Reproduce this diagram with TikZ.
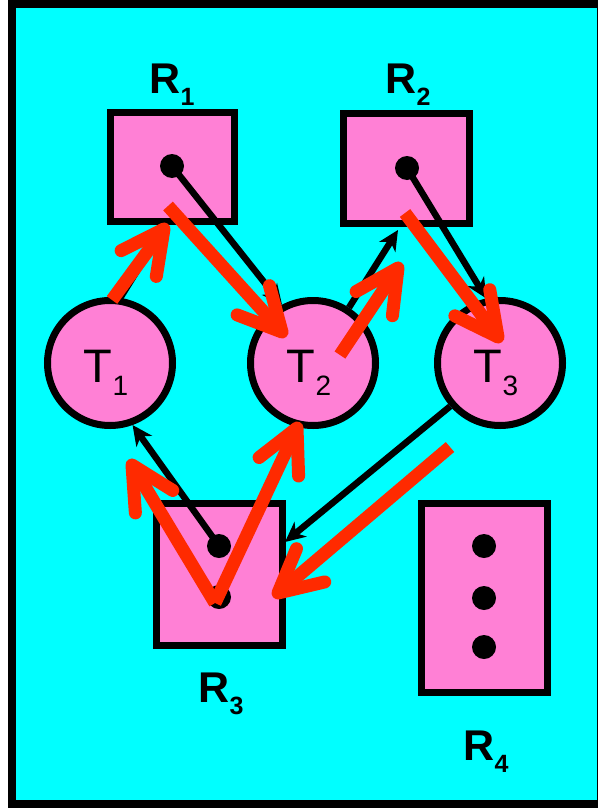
\documentclass[tikz,border=0pt]{standalone}
\usepackage{fontspec}
\setmainfont{Liberation Sans}
\usetikzlibrary{arrows.meta,calc}
\definecolor{bgcyan}{HTML}{00FFFF}
\definecolor{boxpink}{HTML}{FF80D5}
\definecolor{arrred}{HTML}{FF2A00}
\newcommand{\Rlab}[1]{{\fontsize{43}{43}\selectfont\bfseries R\raisebox{-12pt}{\fontsize{25}{25}\selectfont #1}}}
\newcommand{\Tlab}[1]{{\fontsize{47}{47}\selectfont T\raisebox{-13pt}{\fontsize{28}{28}\selectfont #1}}}
\newcommand{\redarrow}[2]{%
  \draw[redshaft] (#1) -- (#2);
  \draw[redbarb] ($(#2)!48pt!27:(#1)$) -- (#2) -- ($(#2)!48pt!-27:(#1)$);}
\tikzset{
  res/.style={draw=black, line width=7pt, fill=boxpink, rectangle, inner sep=0pt},
  task/.style={draw=black, line width=7pt, fill=boxpink, circle, minimum size=125pt, inner sep=0pt},
  dotmark/.style={fill=black, circle, minimum size=24pt, inner sep=0pt},
  lab/.style={anchor=base, inner sep=0pt},
  blackarr/.style={draw=black, line width=6.5pt, -{Stealth[length=20pt,width=19pt,inset=6pt]}},
  redshaft/.style={draw=arrred, line width=13pt, line cap=butt},
  redbarb/.style={draw=arrred, line width=13pt, line cap=round, line join=round},
}
\begin{document}
\begin{tikzpicture}[x=1pt,y=-1pt]
\useasboundingbox (0,0) rectangle (597,808);
\fill[white] (0,0) rectangle (597,808);
\draw[line width=8pt, fill=bgcyan] (12,4) rectangle (601,804);

% resources
\node[res, minimum width=124pt, minimum height=109pt] (R1) at (172,166.5) {};
\node[res, minimum width=126pt, minimum height=110pt] (R2) at (406.5,168.5) {};
\node[res, minimum width=126pt, minimum height=142pt] (R3) at (219.5,574.5) {};
\node[res, minimum width=126pt, minimum height=189pt] (R4) at (484.5,598) {};

% tasks
\node[task] (T1) at (110,363) {};
\node[task] (T2) at (313,363) {};
\node[task] (T3) at (500,363) {};

% labels
\node[lab] (LR1) at (172,93) {\Rlab{1}};
\node[lab] (LR2) at (408,93) {\Rlab{2}};
\node[lab] (LR3) at (221,702) {\Rlab{3}};
\node[lab] (LR4) at (486,760) {\Rlab{4}};
\node[lab] (LT1) at (106,382) {\Tlab{1}};
\node[lab] (LT2) at (309,382) {\Tlab{2}};
\node[lab] (LT3) at (496,382) {\Tlab{3}};

% dots
\node[dotmark] (d1) at (172,166) {};
\node[dotmark] (d2) at (407,168) {};
\node[dotmark] (d3a) at (219,546) {};
\node[dotmark] (d3b) at (219,597) {};
\node[dotmark] (d4a) at (484,546) {};
\node[dotmark] (d4b) at (484,598) {};
\node[dotmark] (d4c) at (484,647) {};

% black arrows
\coordinate (e2) at (163,229);
\coordinate (e4) at (398,230);
\coordinate (e6) at (285,542);
\draw[blackarr] (d1.center) -- (T2.118);
\draw[blackarr] (T1.81) -- (e2);
\draw[blackarr] (d2.center) -- (T3.102);
\draw[blackarr] (T2.57) -- (e4);
\draw[blackarr] (d3a.center) -- (T1.-70);
\draw[blackarr] (T3.221) -- (e6);

% red arrows
\coordinate (r1s) at (112,300); \coordinate (r1t) at (164,229);
\coordinate (r2s) at (168,206); \coordinate (r2t) at (282,332);
\coordinate (r3s) at (340,355); \coordinate (r3t) at (398,268);
\coordinate (r4s) at (405,213); \coordinate (r4t) at (498,337);
\coordinate (r5s) at (215,603); \coordinate (r5t) at (132,465);
\coordinate (r6t) at (297,428);
\coordinate (r7s) at (450,447); \coordinate (r7t) at (278,593);
\redarrow{r1s}{r1t}
\redarrow{r2s}{r2t}
\redarrow{r3s}{r3t}
\redarrow{r4s}{r4t}
\redarrow{r5s}{r5t}
\redarrow{r5s}{r6t}
\redarrow{r7s}{r7t}
\end{tikzpicture}
\end{document}
